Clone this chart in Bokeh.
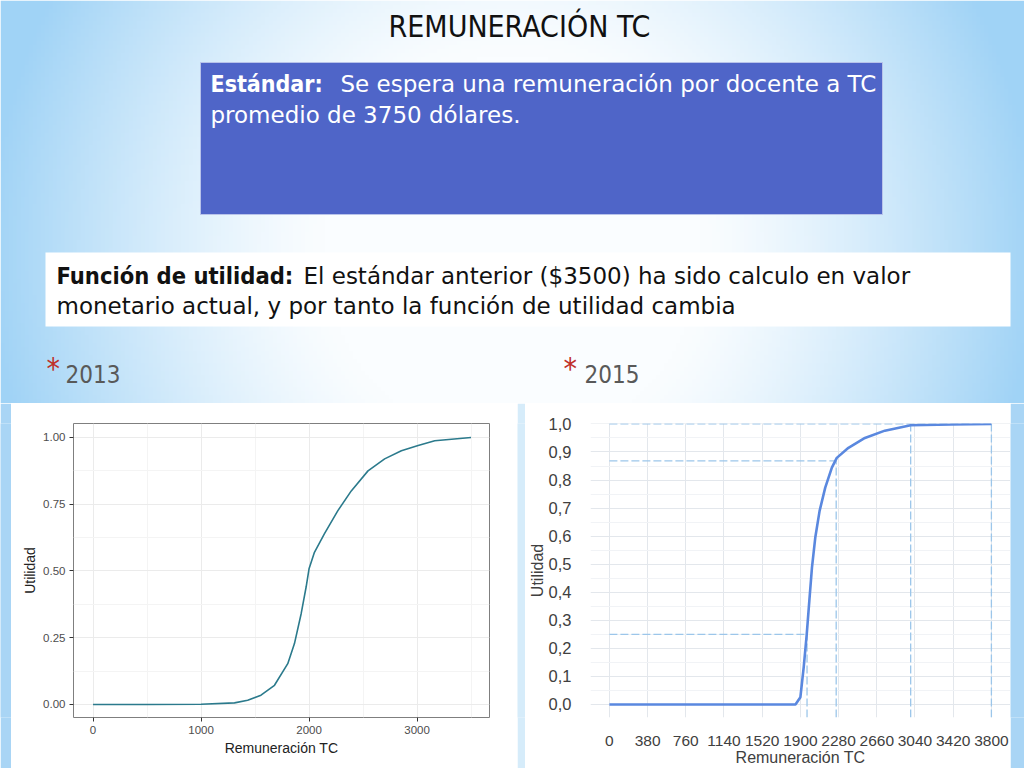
import numpy as np
from bokeh.plotting import figure
from bokeh.models import Range1d, FixedTicker, CustomJSTickFormatter
from bokeh.layouts import column, row
from bokeh.core.properties import value
from bokeh.embed import file_html
from bokeh.resources import INLINE

# ---------------- data ----------------
title_text = "REMUNERACIÓN TC"
std_bold = "Estándar:"
std_line1 = "Se espera una remuneración por docente a TC"
std_line2 = "promedio de 3750 dólares."
fu_bold = "Función de utilidad:"
fu_line1 = "El estándar anterior ($3500) ha sido calculo en valor"
fu_line2 = "monetario actual, y por tanto la función de utilidad cambia"
year_labels = ["2013", "2015"]

# 2013 utility curve (ggplot)
x2013 = [0, 500, 1000, 1310, 1432, 1555, 1680, 1803, 1865, 1927, 1973, 2000,
         2050, 2143, 2267, 2391, 2546, 2700, 2855, 3010, 3164, 3500]
u2013 = [0.0, 0.0, 0.001, 0.006, 0.016, 0.035, 0.072, 0.153, 0.228, 0.34, 0.44, 0.508,
         0.57, 0.64, 0.726, 0.80, 0.875, 0.92, 0.95, 0.97, 0.988, 1.0]
x1_ticks = [0, 1000, 2000, 3000]
x1_minor = [500, 1500, 2500, 3500]
y1_ticks = [0.0, 0.25, 0.5, 0.75, 1.0]
y1_minor = [0.125, 0.375, 0.625, 0.875]

# 2015 utility curve (Excel)
x2015 = [0, 1520, 1851, 1900, 1933, 1963, 1989, 2015, 2048, 2091, 2147, 2213,
         2262, 2378, 2542, 2740, 2997, 3400, 3800]
u2015 = [0.0, 0.0, 0.0, 0.026, 0.133, 0.25, 0.37, 0.488, 0.595, 0.69, 0.773, 0.844,
         0.879, 0.915, 0.95, 0.976, 0.995, 0.998, 1.0]
x2_ticks = [0, 380, 760, 1140, 1520, 1900, 2280, 2660, 3040, 3420, 3800]
y2_ticks = [0.0, 0.1, 0.2, 0.3, 0.4, 0.5, 0.6, 0.7, 0.8, 0.9, 1.0]
y2_minor = [0.05, 0.15, 0.25, 0.35, 0.45, 0.55, 0.65, 0.75, 0.85, 0.95]

# reference (dashed) lines on the 2015 chart
ref_h_y = [1.0, 0.868, 0.25]
ref_h_x = [3800, 2256, 1966]
ref_v_x = [1966, 2256, 2997, 3800]
ref_v_y = [0.25, 0.868, 1.0, 1.0]

# ---------------- styling ----------------
COND_FONT = "DejaVu Sans Condensed"
BODY_FONT = "DejaVu Sans"
AX_FONT = "Liberation Sans"
W = 1024
TOP_H = 403
BOT_H = 365


def Y(py):
    return TOP_H - py


# ---------------- top figure (slide header) ----------------
top = figure(width=W, height=TOP_H, x_range=Range1d(0, W), y_range=Range1d(0, TOP_H),
             output_backend="svg", toolbar_location=None, min_border=0)
top.axis.visible = False
top.grid.visible = False
top.outline_line_color = None

# gradient background
nx, ny = 256, 101
px = (np.arange(nx) + 0.5) * W / nx
py = TOP_H - (np.arange(ny) + 0.5) * TOP_H / ny
PX, PY = np.meshgrid(px, py)
t = np.sqrt(((PX - 512) / 540.0) ** 2 + ((PY - 250) / 560.0) ** 2)
s = np.clip((t - 0.35) / 0.62, 0, 1) ** 1.3
blue = np.array([160, 211, 246])
white = np.array([250, 253, 255])
img = np.empty((ny, nx), dtype=np.uint32)
view = img.view(dtype=np.uint8).reshape((ny, nx, 4))
for k in range(3):
    view[:, :, k] = (white[k] * (1 - s) + blue[k] * s).astype(np.uint8)
view[:, :, 3] = 255
top.image_rgba(image=[img], x=0, y=0, dw=W, dh=TOP_H)

# boxes
top.quad(left=[200], right=[882], top=[Y(62)], bottom=[Y(214)],
         fill_color="#4f65c8", line_color="#b8c3ea", line_width=1)
top.quad(left=[45], right=[1010], top=[Y(252)], bottom=[Y(326)],
         fill_color="white", line_color=None)

# title
top.text(x=[519], y=[Y(26)], text=[title_text], text_font=value(COND_FONT),
         text_font_size="30px", text_color="#111111", text_align="center",
         text_baseline="middle")

# blue box text
top.text(x=[210], y=[Y(83)], text=[std_bold], text_font=value(COND_FONT),
         text_font_size="23px", text_font_style="bold", text_color="white",
         text_baseline="middle")
top.text(x=[340, 210], y=[Y(83), Y(114)], text=[std_line1, std_line2],
         text_font=value(BODY_FONT), text_font_size="23px", text_color="white",
         text_baseline="middle")

# white box text
top.text(x=[56], y=[Y(275)], text=[fu_bold], text_font=value(COND_FONT),
         text_font_size="23.5px", text_font_style="bold", text_color="#111111",
         text_baseline="middle")
top.text(x=[303, 56], y=[Y(275), Y(305)], text=[fu_line1, fu_line2],
         text_font=value(BODY_FONT), text_font_size="23px", text_color="#111111",
         text_baseline="middle")

# bullets with years
top.text(x=[46, 563], y=[Y(368), Y(368)], text=["*", "*"], text_font=value(COND_FONT),
         text_font_size="30px", text_color="#c0302a", text_baseline="middle")
top.text(x=[65, 584], y=[Y(373), Y(373)], text=year_labels, text_font=value(COND_FONT),
         text_font_size="24px", text_color="#595959", text_baseline="middle")

# ---------------- 2013 chart ----------------
c1 = figure(width=506, height=BOT_H, x_range=Range1d(-181, 3671), y_range=Range1d(-0.0487, 1.0524),
            output_backend="svg", toolbar_location=None,
            min_border_left=62, min_border_right=28, min_border_top=20, min_border_bottom=51)
c1.background_fill_color = "white"
c1.border_fill_color = "white"
c1.outline_line_color = "#7f7f7f"
c1.outline_line_width = 1
c1.line(x2013, u2013, line_color="#2b7a8c", line_width=1.6)
c1.xaxis.ticker = FixedTicker(ticks=x1_ticks, minor_ticks=x1_minor)
c1.yaxis.ticker = FixedTicker(ticks=y1_ticks, minor_ticks=y1_minor)
c1.xgrid.ticker = FixedTicker(ticks=x1_ticks, minor_ticks=x1_minor)
c1.ygrid.ticker = FixedTicker(ticks=y1_ticks, minor_ticks=y1_minor)
c1.yaxis.formatter = CustomJSTickFormatter(code="return tick.toFixed(2);")
c1.grid.grid_line_color = "#ebebeb"
c1.grid.minor_grid_line_color = "#f4f4f4"
c1.xaxis.axis_label = "Remuneración TC"
c1.yaxis.axis_label = "Utilidad"
for ax in (c1.xaxis[0], c1.yaxis[0]):
    ax.axis_line_color = None
    ax.major_tick_line_color = "#333333"
    ax.major_tick_out = 4
    ax.major_tick_in = 0
    ax.minor_tick_line_color = None
    ax.major_label_text_font = AX_FONT
    ax.major_label_text_font_size = "11.5px"
    ax.major_label_text_color = "#4d4d4d"
    ax.major_label_standoff = 4
    ax.axis_label_text_font = AX_FONT
    ax.axis_label_text_font_size = "14px"
    ax.axis_label_text_font_style = "normal"
    ax.axis_label_text_color = "#222222"
c1.xaxis.axis_label_standoff = 3
c1.yaxis.axis_label_standoff = 2

# ---------------- 2015 chart ----------------
c2 = figure(width=485, height=BOT_H, x_range=Range1d(-188, 3990), y_range=Range1d(-0.0465, 1.0015),
            output_backend="svg", toolbar_location=None,
            min_border_left=62, min_border_right=0, min_border_top=20, min_border_bottom=51)
c2.background_fill_color = "white"
c2.border_fill_color = "white"
c2.outline_line_color = None
c2.xaxis.ticker = FixedTicker(ticks=x2_ticks)
c2.yaxis.ticker = FixedTicker(ticks=y2_ticks, minor_ticks=y2_minor)
c2.xgrid.ticker = FixedTicker(ticks=x2_ticks)
c2.ygrid.ticker = FixedTicker(ticks=y2_ticks, minor_ticks=y2_minor)
c2.yaxis.formatter = CustomJSTickFormatter(code="return tick.toFixed(1).replace('.', ',');")
c2.grid.grid_line_color = "#e3e7ec"
c2.ygrid.minor_grid_line_color = "#f1f3f6"

c2.segment(x0=[0] * len(ref_h_y), y0=ref_h_y, x1=ref_h_x, y1=ref_h_y,
           line_color="#9cc6ea", line_width=1.3, line_dash="8 3")
c2.segment(x0=ref_v_x, y0=[c2.y_range.start] * len(ref_v_x), x1=ref_v_x, y1=ref_v_y,
           line_color="#9cc6ea", line_width=1.3, line_dash="8 3")
c2.line(x2015, u2015, line_color="#5a88df", line_width=2.6)

c2.xaxis.axis_label = "Remuneración TC"
c2.yaxis.axis_label = "Utilidad"
for ax in (c2.xaxis[0], c2.yaxis[0]):
    ax.axis_line_color = None
    ax.major_tick_line_color = None
    ax.minor_tick_line_color = None
    ax.major_label_text_font = AX_FONT
    ax.major_label_text_color = "#404040"
    ax.axis_label_text_font = AX_FONT
    ax.axis_label_text_font_size = "16px"
    ax.axis_label_text_font_style = "normal"
    ax.axis_label_text_color = "#404040"
    ax.axis_label_standoff = 0
c2.xaxis.major_label_text_font_size = "15.5px"
c2.yaxis.major_label_text_font_size = "16.5px"
c2.xaxis.major_label_standoff = 12
c2.yaxis.major_label_standoff = 13


# ---------------- side pads ----------------
def pad(w, color):
    f = figure(width=w, height=BOT_H, x_range=Range1d(0, 1), y_range=Range1d(0, 1),
               output_backend="svg", toolbar_location=None, min_border=0)
    f.axis.visible = False
    f.grid.visible = False
    f.outline_line_color = None
    f.background_fill_color = color
    f.border_fill_color = color
    return f


layout = column(top, row(pad(11, "#a9d5f5"), c1, pad(8, "#d6ecfa"), c2, pad(14, "#a9d5f5"),
                         spacing=0), spacing=0)

open("out.html", "w").write(file_html(layout, INLINE))
